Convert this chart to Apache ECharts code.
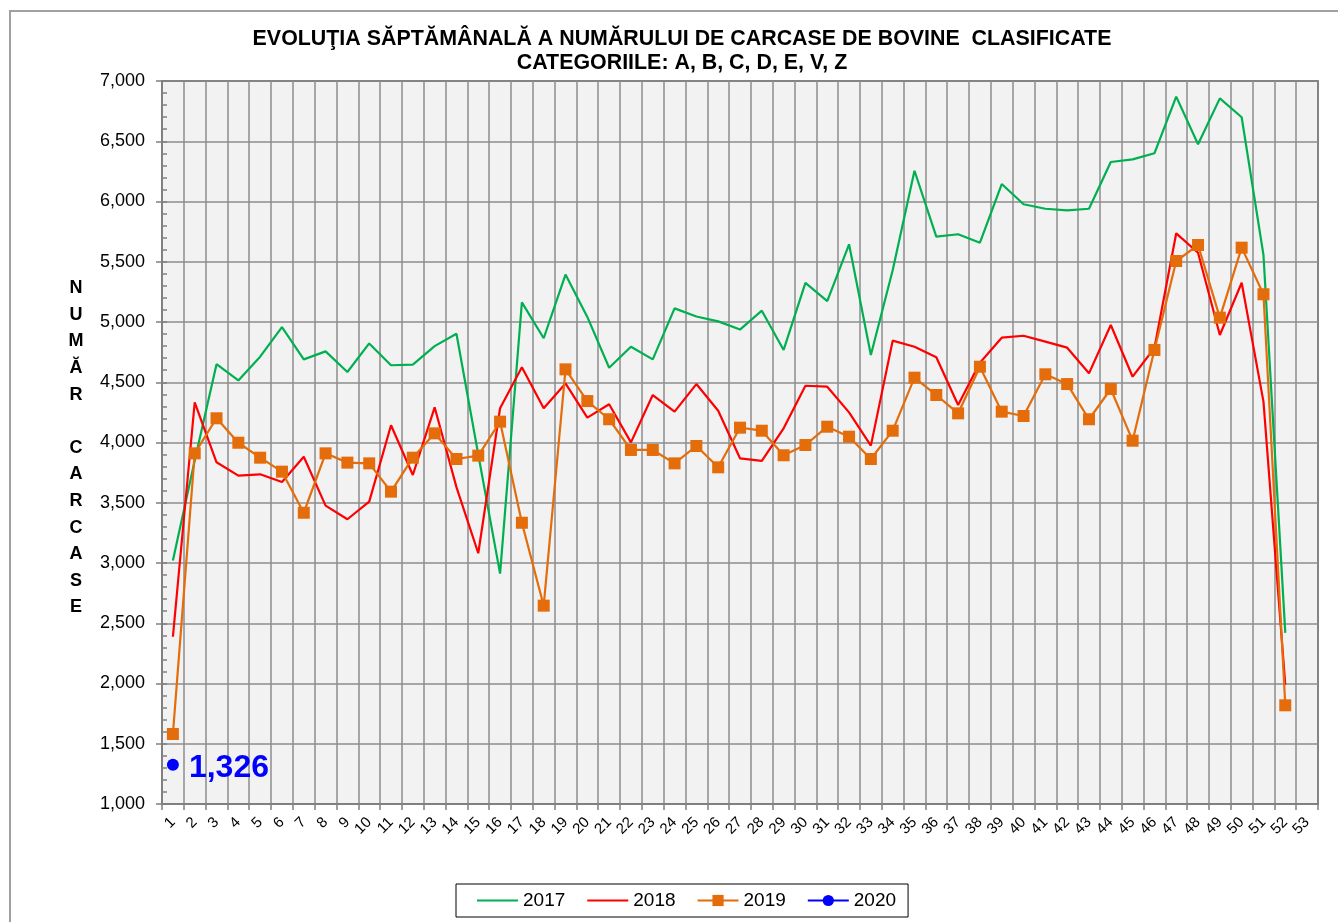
<!DOCTYPE html>
<html>
<head>
<meta charset="utf-8">
<script src="https://cdn.jsdelivr.net/npm/echarts@6/dist/echarts.min.js"></script>
<style>
html,body{margin:0;padding:0;background:#fff;}
#chart{width:1338px;height:922px;}
</style>
</head>
<body>
<div id="chart"></div>
<script>
// ---- data ----
const weeks = Array.from({length: 53}, (_, i) => String(i + 1));
const s2017 = [3020, 3850, 4650, 4515, 4712, 4958, 4690, 4756, 4585, 4822, 4641, 4647, 4800, 4903, 3900, 2912, 5163, 4865, 5394, 5042, 4620, 4795, 4690, 5113, 5046, 5005, 4937, 5094, 4768, 5325, 5174, 5645, 4726, 5430, 6255, 5708, 5728, 5658, 6145, 5977, 5940, 5927, 5940, 6328, 6350, 6400, 6870, 6475, 6856, 6699, 5556, 2420];
const s2018 = [2388, 4334, 3836, 3725, 3736, 3672, 3882, 3476, 3363, 3509, 4143, 3730, 4292, 3630, 3081, 4284, 4624, 4284, 4490, 4206, 4317, 4001, 4394, 4256, 4485, 4264, 3869, 3847, 4118, 4471, 4463, 4250, 3974, 4845, 4795, 4707, 4311, 4662, 4870, 4886, 4837, 4787, 4574, 4975, 4546, 4784, 5736, 5575, 4892, 5326, 4339, 1988];
const s2019 = [1581, 3910, 4201, 3998, 3874, 3758, 3417, 3910, 3833, 3827, 3592, 3874, 4076, 3863, 3891, 4173, 3334, 2646, 4607, 4344, 4193, 3938, 3938, 3827, 3971, 3794, 4123, 4098, 3894, 3979, 4131, 4048, 3863, 4098, 4538, 4394, 4242, 4629, 4256, 4220, 4566, 4485, 4193, 4444, 4015, 4768, 5506, 5639, 5036, 5617, 5230, 1819];
const s2020 = [1326];
const seriesNames = ['2017', '2018', '2019', '2020'];
const titleLine1 = 'EVOLUŢIA SĂPTĂMÂNALĂ A NUMĂRULUI DE CARCASE DE BOVINE  CLASIFICATE';
const titleLine2 = 'CATEGORIILE: A, B, C, D, E, V, Z';
const yAxisTitle = 'NUMĂR CARCASE';

const FONT = '"Liberation Sans", Arial, sans-serif';
const fmt = v => Number(v).toLocaleString('en-US');
const hidden = {color: 'rgba(0,0,0,0)', borderColor: 'rgba(0,0,0,0)', borderWidth: 0};

const chart = echarts.init(document.getElementById('chart'), null, {renderer: 'canvas'});
chart.setOption({
  animation: false,
  backgroundColor: '#ffffff',
  textStyle: {fontFamily: FONT},
  graphic: [
    {type: 'rect', silent: true, z: -10,
      shape: {x: 10, y: 11, width: 1400, height: 1000},
      style: {fill: 'none', stroke: '#A0A0A0', lineWidth: 2}},
    {type: 'text', x: 682, y: 39, silent: true,
      style: {text: titleLine1, font: 'bold 21.4px ' + FONT, fill: '#000', align: 'center', verticalAlign: 'middle'}},
    {type: 'text', x: 682, y: 63, silent: true,
      style: {text: titleLine2, font: 'bold 21.4px ' + FONT, fill: '#000', align: 'center', verticalAlign: 'middle'}},
    {type: 'text', x: 76, y: 275, silent: true,
      style: {text: yAxisTitle.split('').join('\n'), font: 'bold 18px ' + FONT, lineHeight: 26.6,
        fill: '#000', align: 'center', verticalAlign: 'top'}}
  ],
  legend: {
    left: 456, top: 884,
    padding: [7, 12, 7, 20],
    itemGap: 21,
    itemWidth: 41, itemHeight: 14,
    backgroundColor: '#fff',
    borderColor: '#000', borderWidth: 1,
    textStyle: {fontSize: 19, color: '#000', fontFamily: FONT},
    data: [
      {name: seriesNames[0], itemStyle: hidden},
      {name: seriesNames[1], itemStyle: hidden},
      {name: seriesNames[2]},
      {name: seriesNames[3]}
    ]
  },
  grid: {
    left: 162, right: 20, top: 81, bottom: 118,
    show: true, backgroundColor: '#F2F2F2', borderColor: '#404040', borderWidth: 1.5
  },
  xAxis: {
    type: 'category', data: weeks, boundaryGap: true,
    axisLine: {show: true, lineStyle: {color: '#808080', width: 2}},
    axisTick: {show: true, length: 6, lineStyle: {color: '#808080', width: 1.5}},
    axisLabel: {interval: 0, rotate: 45, margin: 16, fontSize: 15, color: '#000', fontFamily: FONT},
    splitLine: {show: true, interval: 0, lineStyle: {color: '#8C8C8C', width: 1.5}}
  },
  yAxis: [
    {
      type: 'value', min: 1000, max: 7000, interval: 500,
      axisLine: {show: true, lineStyle: {color: '#808080', width: 2}},
      axisTick: {show: true, length: 6, lineStyle: {color: '#808080', width: 1.5}},
      axisLabel: {margin: 17, fontSize: 18, color: '#000', fontFamily: FONT, formatter: fmt},
      splitLine: {show: true, lineStyle: {color: '#8C8C8C', width: 1.5}}
    },
    {
      type: 'value', min: 1000, max: 7000, interval: 100, position: 'left',
      axisLine: {show: false},
      axisTick: {show: true, inside: true, length: 5, lineStyle: {color: '#808080', width: 1.5}},
      axisLabel: {show: false},
      splitLine: {show: false}
    }
  ],
  series: [
    {name: '2017', type: 'line', data: s2017, symbol: 'none', showSymbol: false,
      itemStyle: {color: '#00B050'}, lineStyle: {color: '#00B050', width: 2.2}},
    {name: '2018', type: 'line', data: s2018, symbol: 'none', showSymbol: false,
      itemStyle: {color: '#FF0000'}, lineStyle: {color: '#FF0000', width: 2.2}},
    {name: '2019', type: 'line', data: s2019, symbol: 'rect', symbolSize: 12, showSymbol: true,
      itemStyle: {color: '#E46C0A'}, lineStyle: {color: '#E46C0A', width: 2.2}},
    {name: '2020', type: 'line', data: s2020, symbol: 'circle', symbolSize: 12, showSymbol: true,
      itemStyle: {color: '#0000FF'}, lineStyle: {color: '#0000FF', width: 2.2},
      label: {show: true, position: 'right', distance: 10, offset: [0, 3], color: '#0000FF',
        fontSize: 32, fontWeight: 'bold', fontFamily: FONT, formatter: p => fmt(p.value)}}
  ]
});
</script>
</body>
</html>
